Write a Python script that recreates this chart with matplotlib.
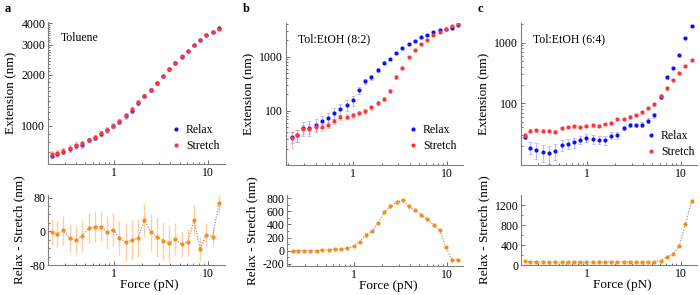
import numpy as np
import matplotlib
matplotlib.use("Agg")
import matplotlib.pyplot as plt
from matplotlib.ticker import FixedLocator, NullFormatter, FixedFormatter
from matplotlib.lines import Line2D

plt.rcParams['font.family'] = ['Liberation Serif', 'DejaVu Serif']

force = [0.22, 0.25, 0.29, 0.34, 0.40, 0.46, 0.54, 0.63, 0.73, 0.85, 0.99, 1.15,
         1.34, 1.56, 1.81, 2.11, 2.46, 2.86, 3.33, 3.87, 4.51, 5.25, 6.11, 7.11,
         8.28, 9.63, 11.2, 13.1]

# Panel a: Toluene
a_relax = [670, 680, 705, 730, 760, 770, 825, 850, 900, 945, 1000, 1060, 1140, 1230,
           1365, 1505, 1625, 1775, 1950, 2145, 2350, 2550, 2750, 2985, 3190, 3400, 3540, 3730]
a_stretch = [685, 695, 715, 745, 775, 790, 830, 865, 905, 950, 1005, 1075, 1160, 1250,
             1380, 1495, 1625, 1780, 1960, 2150, 2345, 2555, 2755, 2990, 3195, 3400, 3545, 3680]
a_relax_err = [25, 25, 25, 25, 25, 25, 25, 25, 30, 30, 30, 30, 35, 35,
               35, 35, 35, 35, 35, 35, 40, 40, 40, 40, 40, 40, 40, 40]
a_stretch_err = [25, 25, 25, 25, 25, 25, 25, 25, 30, 30, 30, 30, 35, 35,
                 35, 35, 35, 35, 35, 35, 40, 40, 40, 40, 40, 40, 40, 40]
a_diff = [-2, -6, 2, -16, -21, -11, 8, 11, 11, -2, 4, -16, -26, -21,
          -16, 27, -2, -13, -22, -28, -19, -30, -26, 26, -42, -8, -13, 66]
a_diff_err = [30, 31, 35, 34, 33, 37, 35, 36, 35, 39, 40, 40, 45, 47,
              45, 40, 44, 48, 45, 44, 38, 31, 32, 36, 28, 27, 21, 20]

# Panel b: Tol:EtOH (8:2)
b_relax = [33, 35, 48, 49, 55, 65, 73, 91, 109, 127, 155, 237, 347, 417,
           568, 775, 918, 1185, 1423, 1686, 1971, 2270, 2541, 2885, 3055, 3185, 3415, 3774]
b_stretch = [31, 35, 46, 47, 51, 50, 55, 64, 76, 78, 83, 91, 97, 115,
             140, 164, 233, 417, 627, 1000, 1327, 1686, 2025, 2467, 2800, 3185, 3668, 3930]
b_relax_err = [8, 9, 14, 15, 15, 16, 18, 20, 24, 28, 30, 35, 40, 40,
               40, 40, 40, 50, 50, 50, 50, 50, 60, 60, 60, 60, 60, 60]
b_stretch_err = [10, 9, 9, 9, 9, 7, 7, 7, 8, 8, 8, 8, 10, 10,
                 12, 14, 20, 30, 35, 40, 40, 40, 50, 50, 50, 50, 50, 50]
b_diff = [0, 0, 0, 0, 0, 10, 10, 25, 25, 40, 65, 135, 235, 295,
          420, 590, 675, 740, 775, 675, 615, 550, 480, 390, 310, 50, -140, -140]
b_diff_err = [8, 8, 10, 10, 10, 10, 10, 12, 12, 15, 18, 25, 30, 30,
              30, 30, 35, 40, 35, 35, 30, 30, 25, 25, 20, 15, 15, 15]

# Panel c: Tol:EtOH (6:4)
c_relax = [28.2, 18.6, 17.0, 15.6, 14.9, 16.4, 20.6, 21.6, 22.6, 25.2, 26.8, 25.6, 24.9, 24.6,
           29.4, 30.0, 39.3, 43.6, 43.0, 44.2, 51.6, 63.4, 129, 268, 378, 626, 1209, 1859]
c_stretch = [30.1, 35.0, 36.0, 35.0, 35.0, 33.8, 38.6, 40.6, 41.6, 40.1, 42.2, 43.3, 42.7, 45.5,
             46.6, 54.5, 54.5, 60.4, 64.4, 70.4, 82.9, 96.4, 133, 177, 242, 313, 413, 518]
c_relax_err = [2, 4, 5, 5, 5, 5, 4, 4, 4, 4, 4, 4, 4, 4,
               4, 4, 3, 3, 3, 4, 5, 6, 10, 15, 15, 20, 30, 40]
c_stretch_err = [2, 2, 2, 2, 2, 2, 2, 2, 2, 2, 2, 2, 2, 2,
                 2, 2, 2, 3, 3, 3, 4, 5, 8, 10, 10, 12, 15, 20]
c_diff = [72, 65, 65, 62, 62, 62, 62, 62, 62, 62, 62, 62, 62, 62,
          62, 62, 62, 62, 60, 60, 60, 60, 86, 165, 219, 378, 816, 1286]
c_diff_err = [8, 8, 8, 8, 8, 8, 8, 8, 8, 8, 8, 8, 8, 8,
              8, 8, 8, 8, 8, 8, 8, 8, 10, 12, 15, 20, 25, 30]

titles = ["Toluene", "Tol:EtOH (8:2)", "Tol:EtOH (6:4)"]
letters = ["a", "b", "c"]

BLUE = "#1010ff"
RED = "#ff3535"
ORANGE = "#ff8a14"
AXC = "#808080"

fig = plt.figure(figsize=(7.0, 2.95), dpi=100)
W, H = 700.0, 295.0

def ax_box(l, r, t, b):
    return [l / W, (H - b) / H, (r - l) / W, (b - t) / H]

top_boxes = [(48, 225, 22, 164), (286, 463, 23, 165), (521, 697, 23, 165)]
bot_boxes = [(48, 225, 195, 265), (287, 463, 195, 266), (521, 697, 195, 265)]
xlims = [(0.2, 15.2), (0.192, 14.7), (0.199, 14.9)]
top_ylims = [(598, 4070), (10, 4150), (9.6, 2100)]
top_major = [[1000, 2000, 3000, 4000], [100, 1000], [100, 1000]]
top_minor = [[v for v in range(600, 4100, 100) if v not in (1000, 2000, 3000, 4000)],
             [20, 30, 40, 50, 60, 70, 80, 90, 200, 300, 400, 500, 600, 700, 800, 900,
              2000, 3000, 4000],
             [20, 30, 40, 50, 60, 70, 80, 90, 200, 300, 400, 500, 600, 700, 800, 900, 2000]]
bot_ylims = [(-80, 86), (-235, 850), (0, 1400)]
bot_major = [[-80, 0, 80], [-200, 0, 200, 400, 600, 800], [0, 400, 800, 1200]]
bot_minor = [[-60, -40, -20, 20, 40, 60],
             [-100, 100, 300, 500, 700],
             [200, 600, 1000]]
legend_anchor = [(0.703, 0.282), (0.696, 0.289), (0.717, 0.246)]

relax = [a_relax, b_relax, c_relax]
stretch = [a_stretch, b_stretch, c_stretch]
relax_err = [a_relax_err, b_relax_err, c_relax_err]
stretch_err = [a_stretch_err, b_stretch_err, c_stretch_err]
diffs = [a_diff, b_diff, c_diff]
diff_errs = [a_diff_err, b_diff_err, c_diff_err]

xmajor = [1, 10]
xminor = [0.2, 0.3, 0.4, 0.5, 0.6, 0.7, 0.8, 0.9, 2, 3, 4, 5, 6, 7, 8, 9]

def style(ax):
    for s in ["top", "right"]:
        ax.spines[s].set_visible(False)
    for s in ["left", "bottom"]:
        ax.spines[s].set_color(AXC)
        ax.spines[s].set_linewidth(0.8)
    ax.tick_params(which="both", direction="in", colors="#555555", labelcolor="black",
                   labelsize=8.5, width=0.6, pad=2)
    ax.tick_params(which="major", length=3)
    ax.tick_params(which="minor", length=1.6)

for i in range(3):
    ax = fig.add_axes(ax_box(*top_boxes[i]))
    ax.set_xscale("log")
    ax.set_yscale("log")
    ax.errorbar(force, relax[i], yerr=relax_err[i], fmt="o", color=BLUE, ms=3.0,
                mec="none", ecolor=(0.45, 0.45, 1.0, 0.45), elinewidth=0.8, capsize=1.2,
                capthick=0.6, zorder=3)
    ax.errorbar(force, stretch[i], yerr=stretch_err[i], fmt="o", color=RED, ms=3.0,
                mec="none", ecolor=(1.0, 0.45, 0.45, 0.45), elinewidth=0.8, capsize=1.2,
                capthick=0.6, zorder=4)
    ax.set_xlim(*xlims[i])
    ax.set_ylim(*top_ylims[i])
    ax.xaxis.set_major_locator(FixedLocator(xmajor))
    ax.xaxis.set_major_formatter(FixedFormatter(["1", "10"]))
    ax.xaxis.set_minor_locator(FixedLocator(xminor))
    ax.xaxis.set_minor_formatter(NullFormatter())
    ax.yaxis.set_major_locator(FixedLocator(top_major[i]))
    ax.yaxis.set_major_formatter(FixedFormatter([str(v) for v in top_major[i]]))
    ax.yaxis.set_minor_locator(FixedLocator(top_minor[i]))
    ax.yaxis.set_minor_formatter(NullFormatter())
    style(ax)
    ax.set_ylabel("Extension (nm)", fontsize=9.5, labelpad=3)
    ax.text(0.07, 0.93, titles[i], transform=ax.transAxes, fontsize=8.5,
            va="top", ha="left")
    handles = [Line2D([], [], marker="o", ls="none", color=BLUE, mec="none", ms=3.0),
               Line2D([], [], marker="o", ls="none", color=RED, mec="none", ms=3.0)]
    ax.legend(handles, ["Relax", "Stretch"], loc="upper left", frameon=False,
              fontsize=8.5, handletextpad=0.55, borderaxespad=0, borderpad=0,
              handlelength=0.6, labelspacing=0.35, bbox_to_anchor=legend_anchor[i])
    l, r, t, b = top_boxes[i]
    fig.text((l - 43) / W, 1 - 3 / H, letters[i],
             fontsize=9, fontweight="bold", va="top", ha="left")

    axb = fig.add_axes(ax_box(*bot_boxes[i]))
    axb.set_xscale("log")
    axb.plot(force, diffs[i], ls=(0, (1, 1.2)), color="#9a9a9a", lw=0.9, zorder=2)
    axb.errorbar(force, diffs[i], yerr=diff_errs[i], fmt="o", color=ORANGE, ms=3.0,
                 mec="none", ecolor=(1.0, 0.62, 0.3, 0.5), elinewidth=1.0, capsize=0,
                 zorder=3)
    axb.set_xlim(*xlims[i])
    axb.set_ylim(*bot_ylims[i])
    axb.xaxis.set_major_locator(FixedLocator(xmajor))
    axb.xaxis.set_major_formatter(FixedFormatter(["1", "10"]))
    axb.xaxis.set_minor_locator(FixedLocator(xminor))
    axb.xaxis.set_minor_formatter(NullFormatter())
    axb.yaxis.set_major_locator(FixedLocator(bot_major[i]))
    axb.yaxis.set_major_formatter(FixedFormatter([str(v) for v in bot_major[i]]))
    axb.yaxis.set_minor_locator(FixedLocator(bot_minor[i]))
    axb.yaxis.set_minor_formatter(NullFormatter())
    style(axb)
    axb.set_ylabel("Relax - Stretch (nm)", fontsize=9.5, labelpad=3)
    axb.set_xlabel("Force (pN)", fontsize=9.5, labelpad=1)
    axb.xaxis.set_label_coords(0.575, -0.2)
    axb.xaxis.label.set_va("top")

fig.savefig("out.png", dpi=100)
